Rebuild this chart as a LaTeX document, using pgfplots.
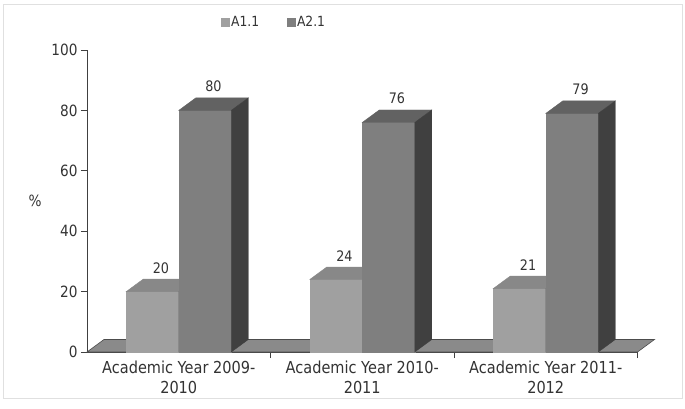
\documentclass[border=0pt]{standalone}
\usepackage{fontspec}
\setmainfont{DejaVu Sans}[FakeStretch=0.88]
\usepackage{pgfplots}
\usepackage{pgfplotstable}
\pgfplotsset{compat=1.18}
\definecolor{aonef}{HTML}{A0A0A0}
\definecolor{aonet}{HTML}{888888}
\definecolor{aones}{HTML}{707070}
\definecolor{atwof}{HTML}{7F7F7F}
\definecolor{atwot}{HTML}{626262}
\definecolor{atwos}{HTML}{404040}
\definecolor{floorc}{HTML}{8A8A8A}
\definecolor{txt}{HTML}{333333}
\pgfdeclareplotmark{nothing}{}
\pgfplotstableread{
x a1 a2
0.5 20 80
1.5 24 76
2.5 21 79
}\bardata
\begin{document}
\begin{tikzpicture}
\useasboundingbox (0,0) rectangle (685pt,408pt);
\draw[black!12, line width=0.8pt] (3pt,10pt) rectangle (682pt,404pt);
\begin{axis}[
  at={(87pt,56pt)}, anchor=south west,
  scale only axis, width=550.5pt, height=302pt,
  xmin=0, xmax=3, ymin=0, ymax=100,
  clip=false,
  axis x line*=bottom, axis y line*=left,
  axis line style={-, black!75, line width=0.8pt},
  ytick={0,20,...,100},
  xtick={1,2,3}, xticklabels={},
  extra x ticks={0.5,1.5,2.5},
  extra x tick labels={{Academic Year 2009-\\2010},{Academic Year 2010-\\2011},{Academic Year 2011-\\2012}},
  extra x tick style={major tick length=0pt, tick label style={align=center, font=\fontsize{16.5}{20}\selectfont, text=txt, yshift=-5pt}},
  tick align=outside, major tick length=6pt,
  tick style={black!75, line width=0.8pt},
  yticklabel style={font=\fontsize{15.5}{17}\selectfont, text=txt},
  /pgf/number format/assume math mode=true,
  ylabel={\%},
  every axis y label/.style={at={(axis description cs:0,0.5)}, xshift=-52pt, anchor=center, font=\fontsize{15.5}{17}\selectfont, text=txt},
  legend style={at={(axis description cs:0.34,1)}, anchor=center, yshift=28pt, draw=none, fill=none, legend columns=2, font=\fontsize{14}{16}\selectfont, text=txt, /tikz/every even column/.append style={column sep=26pt}},
]
\fill[floorc, draw=black!70, line width=0.6pt] (axis cs:0,0) -- (axis cs:3,0) -- ([shift={(17pt,12.5pt)}]axis cs:3,0) -- ([shift={(17pt,12.5pt)}]axis cs:0,0) -- cycle;
\addplot[scatter, only marks, mark=nothing,
  visualization depends on={rawy \as \rawy},
  legend image code/.code={\fill[aonef] (0pt,-4pt) rectangle (7.5pt,3.5pt);},
  scatter/@pre marker code/.code={
    \pgfmathsetlengthmacro\h{\rawy*3.02pt}
    \fill[aonef] (-52.5pt,-\h) rectangle (0pt,0pt);
    \fill[aonet] (-52.5pt,0pt) -- (0pt,0pt) -- (17pt,12.5pt) -- (-35.5pt,12.5pt) -- cycle;
    \fill[aones] (0pt,0pt) -- (17pt,12.5pt) -- (17pt,12.5pt-\h) -- (0pt,-\h) -- cycle;
    \node[font=\fontsize{14.5}{16}\selectfont, text=txt] at (-17.75pt,23pt) {\pgfmathprintnumber{\rawy}};
  },
  scatter/@post marker code/.code={},
] table[x=x, y=a1] \bardata;
\addlegendentry{A1.1}
\addplot[scatter, only marks, mark=nothing,
  visualization depends on={rawy \as \rawy},
  legend image code/.code={\fill[atwof] (0pt,-4pt) rectangle (7.5pt,3.5pt);},
  scatter/@pre marker code/.code={
    \pgfmathsetlengthmacro\h{\rawy*3.02pt}
    \fill[atwof] (0pt,-\h) rectangle (52.5pt,0pt);
    \fill[atwot] (0pt,0pt) -- (52.5pt,0pt) -- (69.5pt,12.5pt) -- (17pt,12.5pt) -- cycle;
    \fill[atwos] (52.5pt,0pt) -- (69.5pt,12.5pt) -- (69.5pt,12.5pt-\h) -- (52.5pt,-\h) -- cycle;
    \node[font=\fontsize{14.5}{16}\selectfont, text=txt] at (34.75pt,24pt) {\pgfmathprintnumber{\rawy}};
  },
  scatter/@post marker code/.code={},
] table[x=x, y=a2] \bardata;
\addlegendentry{A2.1}
\end{axis}
\end{tikzpicture}
\end{document}
